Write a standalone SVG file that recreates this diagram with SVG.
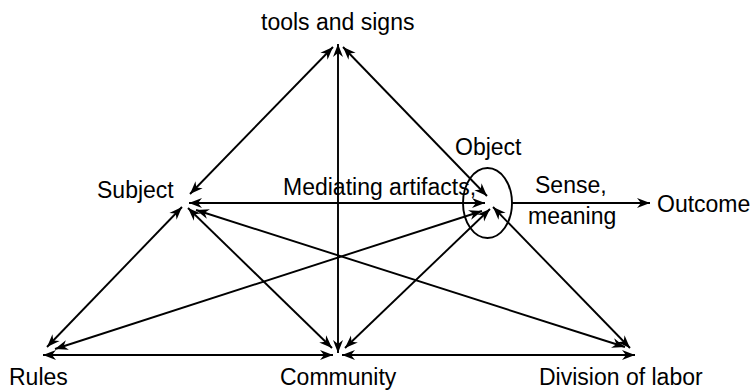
<svg xmlns="http://www.w3.org/2000/svg" width="752" height="392" viewBox="0 0 752 392">
<style>
.lbl{font-family:"Liberation Sans",Arial,Helvetica,sans-serif;font-size:23px;fill:#000}
.c{stroke:#000;stroke-width:1.9;fill:none;marker-end:url(#ah)}
.d{marker-start:url(#ah)}
</style>
<defs>
<marker id="ah" viewBox="-14 -6 16 12" refX="0" refY="0" markerWidth="16" markerHeight="12" markerUnits="userSpaceOnUse" orient="auto-start-reverse">
<path d="M0,0 L-13,-5 L-9,0 L-13,5 Z" fill="#000"/>
</marker>
</defs>
<rect width="752" height="392" fill="#fff"/>
<g id="connectors">
<line class="c d" x1="333" y1="47" x2="190" y2="194"/>
<line class="c d" x1="338" y1="44" x2="338" y2="353"/>
<line class="c d" x1="343" y1="47" x2="487" y2="196"/>
<line class="c d" x1="189" y1="203" x2="485" y2="203"/>
<line class="c d" x1="182" y1="207" x2="47" y2="347"/>
<line class="c d" x1="188" y1="208" x2="332" y2="348"/>
<line class="c d" x1="196" y1="210" x2="625" y2="347"/>
<line class="c d" x1="55" y1="349" x2="482" y2="211"/>
<line class="c d" x1="43" y1="355" x2="333" y2="355"/>
<line class="c d" x1="342" y1="355" x2="635" y2="355"/>
<line class="c d" x1="345" y1="348" x2="490" y2="209"/>
<line class="c d" x1="493" y1="207" x2="630" y2="348"/>
<line class="c" x1="512" y1="203" x2="650" y2="203"/>
</g>
<g id="tools"><text class="lbl" x="261" y="30">tools and signs</text></g>
<g id="subject"><text class="lbl" x="97" y="198">Subject</text></g>
<g id="mediating"><text class="lbl" x="283" y="195">Mediating artifacts,</text></g>
<g id="object">
<ellipse cx="487.5" cy="203" rx="24.5" ry="35" fill="none" stroke="#000" stroke-width="1.9"/>
<text class="lbl" x="455" y="155">Object</text>
</g>
<g id="sense"><text class="lbl" x="535" y="193">Sense,</text><text class="lbl" x="528" y="224">meaning</text></g>
<g id="outcome"><text class="lbl" x="657" y="212">Outcome</text></g>
<g id="rules"><text class="lbl" x="9" y="385">Rules</text></g>
<g id="community"><text class="lbl" x="280" y="385">Community</text></g>
<g id="division"><text class="lbl" x="539" y="385">Division of labor</text></g>
</svg>
